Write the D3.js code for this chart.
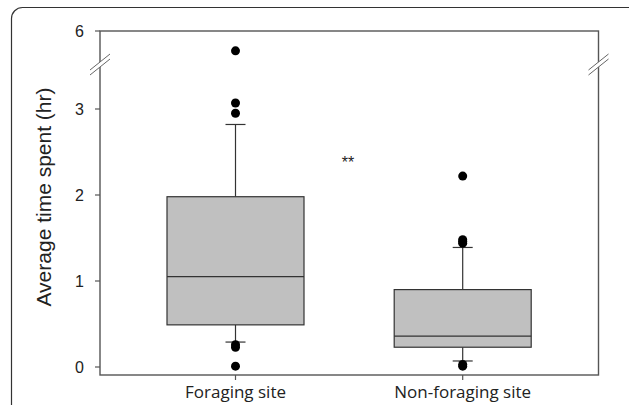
<!DOCTYPE html>
<html>
<head>
<meta charset="utf-8">
<script src="https://cdn.jsdelivr.net/npm/d3@7"></script>
<style>
  body { margin: 0; background: #fff; }
  .tick-label { font-family: "Liberation Sans", Arial, sans-serif; font-size: 16px; fill: #222; }
  .cat-label { font-family: "Open Sans", "Noto Sans", sans-serif; font-size: 17px; fill: #222; }
</style>
</head>
<body>
<div id="chart"></div>
<script>
// Box plot summary values
var categories = ['Foraging site', 'Non-foraging site'];
var q1 = [0.49, 0.23];
var median = [1.05, 0.36];
var q3 = [1.98, 0.90];
var whiskerLow = [0.29, 0.07];
var whiskerHigh = [2.82, 1.39];
var outliers = [
  [0.01, 0.23, 0.26, 2.95, 3.07, 5.38],
  [0.01, 0.03, 1.44, 1.46, 1.48, 2.22]
];
var yTicks = [0, 1, 2, 3, 6];

var width = 629,
  height = 405;

var svg = d3.select('#chart')
  .append('svg')
  .attr('width', width)
  .attr('height', height);

// outer rounded frame
svg.append('rect')
  .attr('x', 11.5)
  .attr('y', 7.5)
  .attr('width', 640)
  .attr('height', 430)
  .attr('rx', 11)
  .attr('fill', 'none')
  .attr('stroke', '#333')
  .attr('stroke-width', 1.2);

var plotLeft = 100, plotRight = 598.5, plotTop = 31, plotBottom = 375;

// broken axis: lower segment 0..3.5, upper segment 5..6
var y = d3.scaleLinear()
  .domain([0, 3.5, 5, 6])
  .range([367, 66, 63, 31]);

var x = d3.scalePoint()
  .domain(categories)
  .range([235.5, 462.7]);

var boxWidth = 137,
  capWidth = 20;

// frame
svg.append('rect')
  .attr('x', plotLeft)
  .attr('y', plotTop)
  .attr('width', plotRight - plotLeft)
  .attr('height', plotBottom - plotTop)
  .attr('fill', 'none')
  .attr('stroke', '#555')
  .attr('stroke-width', 1.4);

// y axis ticks
svg.selectAll('.ytick')
  .data(yTicks)
  .enter()
  .append('line')
  .attr('x1', plotLeft - 5)
  .attr('x2', plotLeft)
  .attr('y1', function (d) { return y(d); })
  .attr('y2', function (d) { return y(d); })
  .attr('stroke', '#555')
  .attr('stroke-width', 1.2);

svg.selectAll('.ytext')
  .data(yTicks)
  .enter()
  .append('text')
  .attr('class', 'tick-label')
  .attr('x', 84)
  .attr('y', function (d) { return y(d) + 6; })
  .attr('text-anchor', 'end')
  .text(function (d) { return d; });

// x axis ticks and labels
svg.selectAll('.xtick')
  .data(categories)
  .enter()
  .append('line')
  .attr('x1', function (d) { return x(d); })
  .attr('x2', function (d) { return x(d); })
  .attr('y1', plotBottom)
  .attr('y2', plotBottom + 5)
  .attr('stroke', '#555')
  .attr('stroke-width', 1.2);

svg.selectAll('.xtext')
  .data(categories)
  .enter()
  .append('text')
  .attr('class', 'cat-label')
  .attr('x', function (d) { return x(d); })
  .attr('y', 398)
  .attr('text-anchor', 'middle')
  .text(function (d) { return d; });

// axis title
svg.append('text')
  .attr('transform', 'translate(51,197) rotate(-90)')
  .attr('text-anchor', 'middle')
  .style('font-family', '"Liberation Sans", Arial, sans-serif')
  .style('font-size', '21px')
  .style('fill', '#222')
  .text('Average time spent (hr)');

// break marks on both vertical frame lines
[plotLeft, plotRight].forEach(function (bx) {
  var yb = (y(3.5) + y(5)) / 2;
  var g = svg.append('g');
  g.append('polygon')
    .attr('points', [
      [bx - 10, yb + 5.5], [bx + 10, yb - 10.5], [bx + 10, yb - 5.5], [bx - 10, yb + 10.5]
    ].join(' '))
    .attr('fill', '#fff');
  [-2.5, 2.5].forEach(function (o) {
    g.append('line')
      .attr('x1', bx - 10)
      .attr('y1', yb + 8 + o)
      .attr('x2', bx + 10)
      .attr('y2', yb - 8 + o)
      .attr('stroke', '#666')
      .attr('stroke-width', 1);
  });
});

// boxes
categories.forEach(function (c, i) {
  var cx = x(c);
  var g = svg.append('g');

  // whiskers
  g.append('line')
    .attr('x1', cx).attr('x2', cx)
    .attr('y1', y(q3[i])).attr('y2', y(whiskerHigh[i]))
    .attr('stroke', '#333').attr('stroke-width', 1.2);
  g.append('line')
    .attr('x1', cx).attr('x2', cx)
    .attr('y1', y(q1[i])).attr('y2', y(whiskerLow[i]))
    .attr('stroke', '#333').attr('stroke-width', 1.2);
  [whiskerHigh[i], whiskerLow[i]].forEach(function (v) {
    g.append('line')
      .attr('x1', cx - capWidth / 2).attr('x2', cx + capWidth / 2)
      .attr('y1', y(v)).attr('y2', y(v))
      .attr('stroke', '#333').attr('stroke-width', 1.2);
  });

  g.append('rect')
    .attr('x', cx - boxWidth / 2)
    .attr('y', y(q3[i]))
    .attr('width', boxWidth)
    .attr('height', y(q1[i]) - y(q3[i]))
    .attr('fill', '#c0c0c0')
    .attr('stroke', '#333')
    .attr('stroke-width', 1.2);

  g.append('line')
    .attr('x1', cx - boxWidth / 2).attr('x2', cx + boxWidth / 2)
    .attr('y1', y(median[i])).attr('y2', y(median[i]))
    .attr('stroke', '#333').attr('stroke-width', 1.2);

  g.selectAll('circle')
    .data(outliers[i])
    .enter()
    .append('circle')
    .attr('cx', cx)
    .attr('cy', function (d) { return y(d); })
    .attr('r', 4.5)
    .attr('fill', '#000');
});

// significance marker
svg.append('text')
  .attr('x', 348)
  .attr('y', 168)
  .attr('text-anchor', 'middle')
  .style('font-family', '"Liberation Sans", Arial, sans-serif')
  .style('font-size', '16px')
  .style('fill', '#222')
  .text('**');
</script>
</body>
</html>
